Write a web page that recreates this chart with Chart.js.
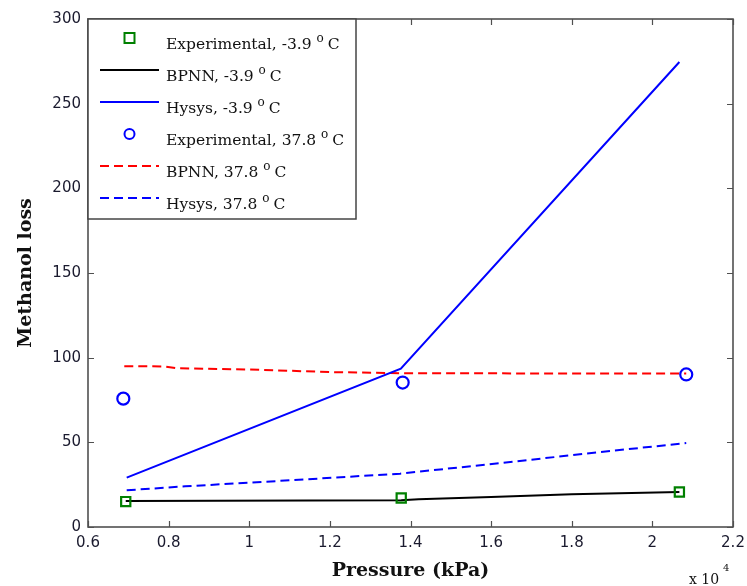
<!DOCTYPE html>
<html>
<head>
<meta charset="utf-8">
<script src="https://cdn.jsdelivr.net/npm/chart.js@4"></script>
<style>
  html, body { margin:0; padding:0; background:#fff; }
  #wrap { width:747px; height:586px; position:relative; }
</style>
</head>
<body>
<div id="wrap"><canvas id="lossChart"></canvas></div>
<script>
// =======================
// DATA (pressure in kPa, methanol loss)
// =======================
const pressureTicks = [6000, 8000, 10000, 12000, 14000, 16000, 18000, 20000, 22000];
const lossTicks = [0, 50, 100, 150, 200, 250, 300];

const expColdP = [6936, 13770, 20670];
const expColdLoss = [15.0, 17.1, 20.7];

const bpnnColdP = [6936, 13770, 14200, 16000, 18000, 20670];
const bpnnColdLoss = [15.4, 15.8, 16.4, 17.7, 19.3, 20.7];

const hysysColdP = [6960, 13760, 20670];
const hysysColdLoss = [29.2, 93.5, 274.6];

const expHotP = [6876, 13806, 20840];
const expHotLoss = [75.8, 85.3, 90.1];

const bpnnHotP = [6900, 7900, 8200, 10000, 12000, 13800, 20840];
const bpnnHotLoss = [95.0, 94.8, 93.8, 93.0, 91.5, 90.8, 90.6];

const hysysHotP = [6960, 8410, 11020, 13740, 16250, 18340, 20840];
const hysysHotLoss = [21.7, 24.0, 27.6, 31.5, 37.8, 43.3, 49.6];

const labels = [
  ['Experimental, -3.9', 'C'],
  ['BPNN, -3.9', 'C'],
  ['Hysys, -3.9', 'C'],
  ['Experimental, 37.8', 'C'],
  ['BPNN, 37.8', 'C'],
  ['Hysys, 37.8', 'C']
];

const pts = (xs, ys) => xs.map((x, i) => ({ x, y: ys[i] }));

// =======================
// FRAME / LEGEND PLUGIN
// =======================
const framePlugin = {
  id: 'frame',
  afterDraw(chart){
    const { ctx, chartArea: a, scales: { x, y } } = chart;
    ctx.save();
    // inward ticks
    ctx.strokeStyle = '#505050';
    ctx.lineWidth = 1.2;
    const tl = 6;
    ctx.beginPath();
    pressureTicks.forEach(v => {
      const px = Math.round(x.getPixelForValue(v)) + 0.5;
      ctx.moveTo(px, a.bottom); ctx.lineTo(px, a.bottom - tl);
      ctx.moveTo(px, a.top); ctx.lineTo(px, a.top + tl);
    });
    lossTicks.forEach(v => {
      const py = Math.round(y.getPixelForValue(v)) + 0.5;
      ctx.moveTo(a.left, py); ctx.lineTo(a.left + tl, py);
      ctx.moveTo(a.right, py); ctx.lineTo(a.right - tl, py);
    });
    ctx.stroke();
    // box
    ctx.lineWidth = 1.6;
    ctx.strokeRect(a.left, a.top, a.right - a.left, a.bottom - a.top);

    // legend
    const lx = a.left, ly = a.top, lw = 268, lh = 200;
    ctx.fillStyle = '#fff';
    ctx.fillRect(lx, ly, lw, lh);
    ctx.strokeStyle = '#444';
    ctx.lineWidth = 1.5;
    ctx.strokeRect(lx, ly, lw, lh);

    chart.data.datasets.forEach((ds, i) => {
      const ry = ly + 19 + i * 32;
      const x0 = lx + 12, x1 = lx + 71, xc = (x0 + x1) / 2;
      ctx.strokeStyle = ds.borderColor;
      ctx.lineWidth = 2;
      if (ds.showLine) {
        ctx.setLineDash(ds.borderDash || []);
        ctx.beginPath(); ctx.moveTo(x0, ry); ctx.lineTo(x1, ry); ctx.stroke();
        ctx.setLineDash([]);
      } else if (ds.pointStyle === 'rect') {
        ctx.strokeRect(xc - 5, ry - 5, 10, 10);
      } else {
        ctx.beginPath(); ctx.arc(xc, ry, 5, 0, Math.PI * 2); ctx.stroke();
      }
      // text with superscript o
      const tx = lx + 78, base = ry + 11;
      ctx.fillStyle = '#111';
      ctx.textBaseline = 'alphabetic';
      ctx.font = '15.5px "DejaVu Serif"';
      ctx.fillText(labels[i][0], tx, base);
      let w = ctx.measureText(labels[i][0] + ' ').width;
      ctx.font = '12px "DejaVu Serif"';
      ctx.fillText('o', tx + w, base - 7);
      w += ctx.measureText('o').width + 4;
      ctx.font = '15.5px "DejaVu Serif"';
      ctx.fillText(labels[i][1], tx + w, base);
    });

    // x 10^4 multiplier
    ctx.fillStyle = '#111';
    ctx.font = '14px "DejaVu Serif"';
    ctx.fillText('x 10', 689, 584);
    ctx.font = '10px "DejaVu Serif"';
    ctx.fillText('4', 723, 571);
    ctx.restore();
  }
};

// =======================
// CHART
// =======================
const tickFont = { family: '"DejaVu Sans"', size: 15 };
const titleFont = { family: '"DejaVu Serif"', size: 19, weight: 'bold' };

new Chart(document.getElementById('lossChart'), {
  type: 'scatter',
  data: {
    datasets: [
      { label: 'Experimental, -3.9 C', data: pts(expColdP, expColdLoss), showLine: false,
        pointStyle: 'rect', pointRadius: 6.5, borderColor: '#008000', backgroundColor: 'rgba(0,0,0,0)', borderWidth: 2.2 },
      { label: 'BPNN, -3.9 C', data: pts(bpnnColdP, bpnnColdLoss), showLine: true,
        borderColor: '#000000', borderWidth: 2, pointRadius: 0 },
      { label: 'Hysys, -3.9 C', data: pts(hysysColdP, hysysColdLoss), showLine: true,
        borderColor: '#0000ff', borderWidth: 2, pointRadius: 0 },
      { label: 'Experimental, 37.8 C', data: pts(expHotP, expHotLoss), showLine: false,
        pointStyle: 'circle', pointRadius: 6, borderColor: '#0000ff', backgroundColor: 'rgba(0,0,0,0)', borderWidth: 2.2 },
      { label: 'BPNN, 37.8 C', data: pts(bpnnHotP, bpnnHotLoss), showLine: true,
        borderColor: '#ff0000', borderWidth: 2, borderDash: [9, 5], pointRadius: 0 },
      { label: 'Hysys, 37.8 C', data: pts(hysysHotP, hysysHotLoss), showLine: true,
        borderColor: '#0000ff', borderWidth: 2, borderDash: [9, 5], pointRadius: 0 }
    ]
  },
  options: {
    responsive: true,
    maintainAspectRatio: false,
    animation: false,
    layout: { padding: { top: 19, right: 14, left: 0, bottom: 0 } },
    plugins: { legend: { display: false }, tooltip: { enabled: false } },
    scales: {
      x: {
        type: 'linear', min: 6000, max: 22000,
        afterBuildTicks: s => { s.ticks = pressureTicks.map(v => ({ value: v })); },
        afterFit: s => { s.height = 59; s.paddingLeft = 0; s.paddingRight = 0; },
        grid: { display: false, drawTicks: false },
        border: { display: false },
        ticks: { font: tickFont, color: '#1a1a2e', padding: 7, maxRotation: 0,
                 callback: v => String(+(v / 10000).toFixed(1)) },
        title: { display: true, text: 'Pressure (kPa)', font: titleFont, color: '#111', padding: { top: 0, bottom: 4 } }
      },
      y: {
        type: 'linear', min: 0, max: 300,
        afterBuildTicks: s => { s.ticks = lossTicks.map(v => ({ value: v })); },
        afterFit: s => { s.width = 88; s.paddingTop = 0; s.paddingBottom = 0; },
        grid: { display: false, drawTicks: false },
        border: { display: false },
        ticks: { font: tickFont, color: '#1a1a2e', padding: 7 },
        title: { display: true, text: 'Methanol loss', font: titleFont, color: '#111', padding: { top: 15, bottom: 0 } }
      }
    }
  },
  plugins: [framePlugin]
});
</script>
</body>
</html>
